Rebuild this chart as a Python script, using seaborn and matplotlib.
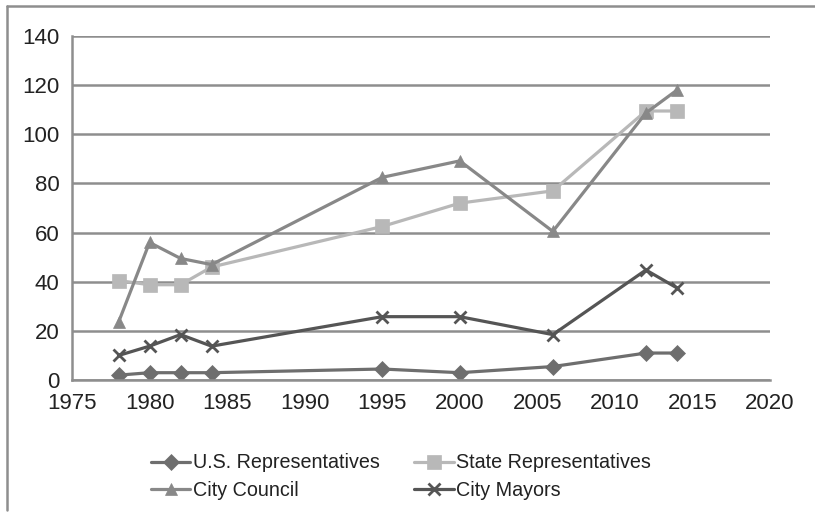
import numpy as np
import pandas as pd
import seaborn as sns
import matplotlib.pyplot as plt
from matplotlib.lines import Line2D

years = [1978, 1980, 1982, 1984, 1995, 2000, 2006, 2012, 2014]
us_reps = [2, 3, 3, 3, 4.5, 3, 5.5, 11, 11]
state_reps = [40.5, 38.8, 38.8, 46, 62.5, 72, 77, 109.5, 109.5]
city_council = [23.5, 56, 49.5, 47, 82.5, 89.2, 60.5, 108.7, 118]
city_mayors = [10, 13.8, 18.5, 13.8, 25.8, 25.8, 18.5, 44.8, 37.5]

series = [
    ("U.S. Representatives", us_reps, "#6e6e6e", "D", 8),
    ("State Representatives", state_reps, "#b8b8b8", "s", 10),
    ("City Council", city_council, "#888888", "^", 9),
    ("City Mayors", city_mayors, "#555555", "x", 8.5),
]

sns.set_style("white")
plt.rcParams['font.family'] = ['Liberation Sans Narrow', 'Liberation Sans', 'DejaVu Sans']

fig = plt.figure(figsize=(8.15, 5.15), dpi=100)
ax = fig.add_axes([0.0883, 0.262, 0.8565, 0.668])

for name, vals, color, marker, ms in series:
    sns.lineplot(x=years, y=vals, ax=ax, color=color, marker=marker,
                 markersize=ms, markeredgecolor=color,
                 markeredgewidth=2.0 if marker == "x" else 0.5,
                 linewidth=2.3, label=name)

ax.set_xlim(1975, 2020)
ax.set_ylim(0, 140)
ax.set_xticks(range(1975, 2021, 5))
ax.set_yticks(range(0, 141, 20))
ax.yaxis.grid(True, color="#8e8e8e", linewidth=1.8)
ax.set_axisbelow(True)
for s in ["top", "right"]:
    ax.spines[s].set_visible(False)
for s in ["left", "bottom"]:
    ax.spines[s].set_color("#8e8e8e")
    ax.spines[s].set_linewidth(1.8)
ax.tick_params(axis="both", direction="out", length=5, width=1.5, color="#8e8e8e",
               labelsize=16, labelcolor="#222222", pad=4)
ax.tick_params(axis="x", pad=4)

# legend reads row by row: US, State / Council, Mayors
handles, labels = ax.get_legend_handles_labels()
order = [0, 2, 1, 3]
ax.legend([handles[i] for i in order], [labels[i] for i in order],
          loc="center", bbox_to_anchor=(0.492, 0.074), bbox_transform=fig.transFigure,
          ncol=2, frameon=False, fontsize=14.2, handlelength=2.0, handletextpad=0.12,
          columnspacing=1.75, labelspacing=0.45, labelcolor="#222222")

# outer frame (top and left edges)
fig.add_artist(Line2D([0.009, 1.0], [0.988, 0.988], transform=fig.transFigure,
                      color="#8e8e8e", linewidth=1.8))
fig.add_artist(Line2D([0.009, 0.009], [0.988, 0.01], transform=fig.transFigure,
                      color="#8e8e8e", linewidth=1.8))

plt.savefig("out.png", dpi=100)
